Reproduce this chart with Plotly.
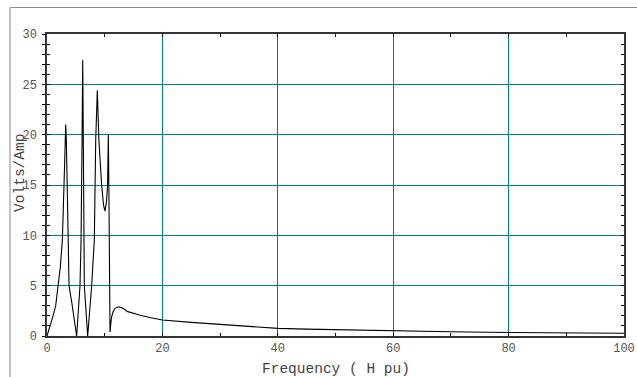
import plotly.graph_objects as go

# Frequency (H pu) and impedance magnitude (Volts/Amp)
freq = [0, 0.5, 1.0, 1.5, 2.0, 2.3, 2.66, 2.9, 3.05, 3.24, 3.35, 3.5, 3.62, 3.75, 3.82,
        4.3, 4.7, 5.14,
        5.72, 5.9, 6.07, 6.19, 6.3, 6.38, 6.47, 7.05,
        7.74, 8.2, 8.44, 8.72, 9.0, 9.47, 9.8, 10.05, 10.3, 10.5, 10.63, 10.72, 10.8, 10.92,
        11.05, 11.2, 11.45, 11.8, 12.36, 13, 14, 16, 18, 20, 25, 30, 35, 40, 45, 50, 60, 70, 80, 90, 100]
volts_per_amp = [0, 0.9, 1.9, 3.0, 5.1, 6.8, 9.5, 13, 17, 21, 19.4, 15, 12, 9.5, 5,
                 3.3, 1.8, 0,
                 5, 9.5, 19, 27.45, 19, 9.5, 5, 0,
                 5, 9.5, 19.4, 24.4, 19.4, 15, 13, 12.4, 13.3, 15, 20, 15, 5, 0.4,
                 1.2, 1.9, 2.4, 2.75, 2.9, 2.8, 2.42, 2.08, 1.82, 1.59, 1.35, 1.16, 0.95, 0.76, 0.68, 0.62, 0.5, 0.42, 0.35, 0.3, 0.27]

x_range = [0, 100]
y_range = [0, 30]
x_title = "Frequency ( H pu)"
y_title = "Volts/Amp"

GRID = "#008080"
AXIS = "#333333"
FONT = "Liberation Mono, Courier New, monospace"

fig = go.Figure()
fig.add_trace(go.Scatter(x=freq, y=volts_per_amp, mode="lines",
                         line=dict(color="black", width=1.1), showlegend=False,
                         hoverinfo="skip"))
fig.add_trace(go.Scatter(x=[0], y=[0], yaxis="y2", mode="markers",
                         marker=dict(opacity=0), showlegend=False, hoverinfo="skip"))

fig.update_layout(
    width=637, height=377,
    margin=dict(l=47, r=13, t=34, b=41, autoexpand=False),
    paper_bgcolor="white", plot_bgcolor="white",
    showlegend=False,
    xaxis=dict(range=x_range, tick0=0, dtick=20, showgrid=True, gridcolor=GRID, gridwidth=1,
               zeroline=False, showline=True, linecolor=AXIS, linewidth=1.5, mirror="ticks",
               ticks="inside", ticklen=3, tickcolor="black", tickwidth=1, automargin=False,
               minor=dict(dtick=10, ticks="inside", ticklen=3, tickcolor="black", showgrid=False),
               tickfont=dict(family=FONT, size=12, color="#555555")),
    yaxis=dict(range=y_range, tick0=0, dtick=5, showgrid=True, gridcolor=GRID, gridwidth=1,
               zeroline=False, showline=True, linecolor=AXIS, linewidth=1.5, mirror=True,
               ticks="outside", ticklen=3, tickcolor="black", tickwidth=1, automargin=False,
               minor=dict(dtick=1, ticks="outside", ticklen=3, tickcolor="black", showgrid=False),
               ticklabelstandoff=3,
               tickfont=dict(family=FONT, size=12, color="#555555")),
    yaxis2=dict(range=y_range, overlaying="y", side="left", tick0=0, dtick=5, showgrid=False,
                zeroline=False, showline=True, linecolor=AXIS, linewidth=1.5, mirror="ticks",
                ticks="inside", ticklen=3, tickcolor="black", showticklabels=False, automargin=False,
                minor=dict(dtick=1, ticks="inside", ticklen=3, tickcolor="black", showgrid=False)),
    annotations=[
        dict(text=x_title, xref="paper", yref="paper", x=0.5, y=-0.109, showarrow=False,
             xanchor="center", yanchor="middle",
             font=dict(family=FONT, size=14.5, color="#444444")),
        dict(text=y_title, xref="paper", yref="paper", x=-0.0468, y=0.54, showarrow=False,
             textangle=-90, xanchor="center", yanchor="middle",
             font=dict(family=FONT, size=14.5, color="#444444")),
    ],
    shapes=[
        dict(type="line", xref="paper", yref="paper", x0=-0.0641, x1=-0.0641, y0=-0.14, y1=1.0877,
             line=dict(color="#888888", width=1)),
        dict(type="line", xref="paper", yref="paper", x0=-0.0641, x1=1.03, y0=1.0877, y1=1.0877,
             line=dict(color="#888888", width=1)),
    ],
)

fig.write_html("out.html")
